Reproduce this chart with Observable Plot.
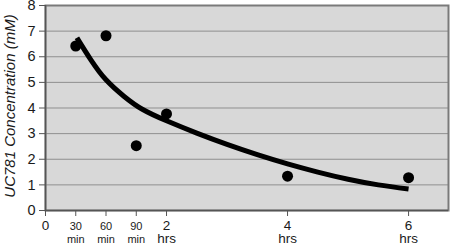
<!DOCTYPE html>
<html>
<head>
<meta charset="utf-8">
<script src="https://cdn.jsdelivr.net/npm/d3@7"></script>
<script src="https://cdn.jsdelivr.net/npm/@observablehq/plot@0.6"></script>
<style>
  html, body { margin: 0; padding: 0; background: #fff; }
</style>
</head>
<body>
<div id="chart"></div>
<script>
// Measured concentrations (hours, mM)
const pointHours = [0.5, 1, 1.5, 2, 4, 6];
const pointConc = [6.42, 6.82, 2.53, 3.77, 1.34, 1.28];

// Fitted curve
const curveHours = [0.52, 0.75, 1.0, 1.3, 1.6, 2.0, 2.5, 3.0, 3.5, 4.0, 4.5, 5.0, 5.5, 6.0];
const curveConc = [6.74, 5.88, 5.1, 4.45, 3.95, 3.5, 3.02, 2.58, 2.18, 1.82, 1.5, 1.22, 1.0, 0.84];

// Axis ticks
const yTicks = [0, 1, 2, 3, 4, 5, 6, 7, 8];
const xTicks = [0, 0.5, 1, 1.5, 2, 4, 6];
const xTickLabels = ["0", "30\nmin", "60\nmin", "90\nmin", "2\nhrs", "4\nhrs", "6\nhrs"];
const xTickSmall = [false, true, true, true, false, false, false];
const yLabel = "UC781 Concentration (mM)";

const points = pointHours.map((h, i) => ({h, c: pointConc[i]}));
const curve = curveHours.map((h, i) => ({h, c: curveConc[i]}));
const tickRows = xTicks.map((v, i) => ({v, label: xTickLabels[i], small: xTickSmall[i]}));

const chart = Plot.plot({
  width: 450,
  height: 247,
  marginLeft: 45,
  marginRight: 2,
  marginTop: 5,
  marginBottom: 37,
  style: {fontFamily: "'Liberation Sans', Arial, sans-serif", background: "#fff", color: "#1a1a1a"},
  x: {domain: [0, 6.66]},
  y: {domain: [0, 8]},
  marks: [
    Plot.frame({fill: "#d8d8d8"}),
    Plot.gridY(yTicks.slice(1, -1), {stroke: "#8f8f8f", strokeOpacity: 1, strokeWidth: 1}),
    Plot.frame({stroke: "#7a7a7a", strokeWidth: 2}),
    Plot.ruleX([0], {stroke: "#555", strokeWidth: 1.5}),
    Plot.ruleY([0], {stroke: "#555", strokeWidth: 1.5}),
    Plot.axisY(yTicks, {tickSize: 6, tickPadding: 4, fontSize: 14.5, stroke: "#555", label: null}),
    Plot.axisX(xTicks, {tickSize: 6, tickFormat: () => "", stroke: "#555", label: null}),
    Plot.text(tickRows.filter(d => !d.small), {
      x: "v", text: "label", frameAnchor: "bottom", lineAnchor: "top",
      dy: 11, fontSize: 13.5, lineHeight: 0.92, fill: "#1a1a1a"
    }),
    Plot.text(tickRows.filter(d => d.small), {
      x: "v", text: "label", frameAnchor: "bottom", lineAnchor: "top",
      dy: 10, fontSize: 11, lineHeight: 1.22, fill: "#1a1a1a"
    }),
    Plot.text([yLabel], {
      frameAnchor: "left", textAnchor: "middle", dx: -35, dy: -2, rotate: -90,
      fontSize: 15, fontStyle: "italic", fill: "#1a1a1a"
    }),
    Plot.line(curve, {x: "h", y: "c", curve: "natural", stroke: "#000", strokeWidth: 5, strokeLinecap: "butt"}),
    Plot.dot(points, {x: "h", y: "c", r: 5.5, fill: "#000", stroke: "none"})
  ]
});
document.getElementById("chart").appendChild(chart);
</script>
</body>
</html>
